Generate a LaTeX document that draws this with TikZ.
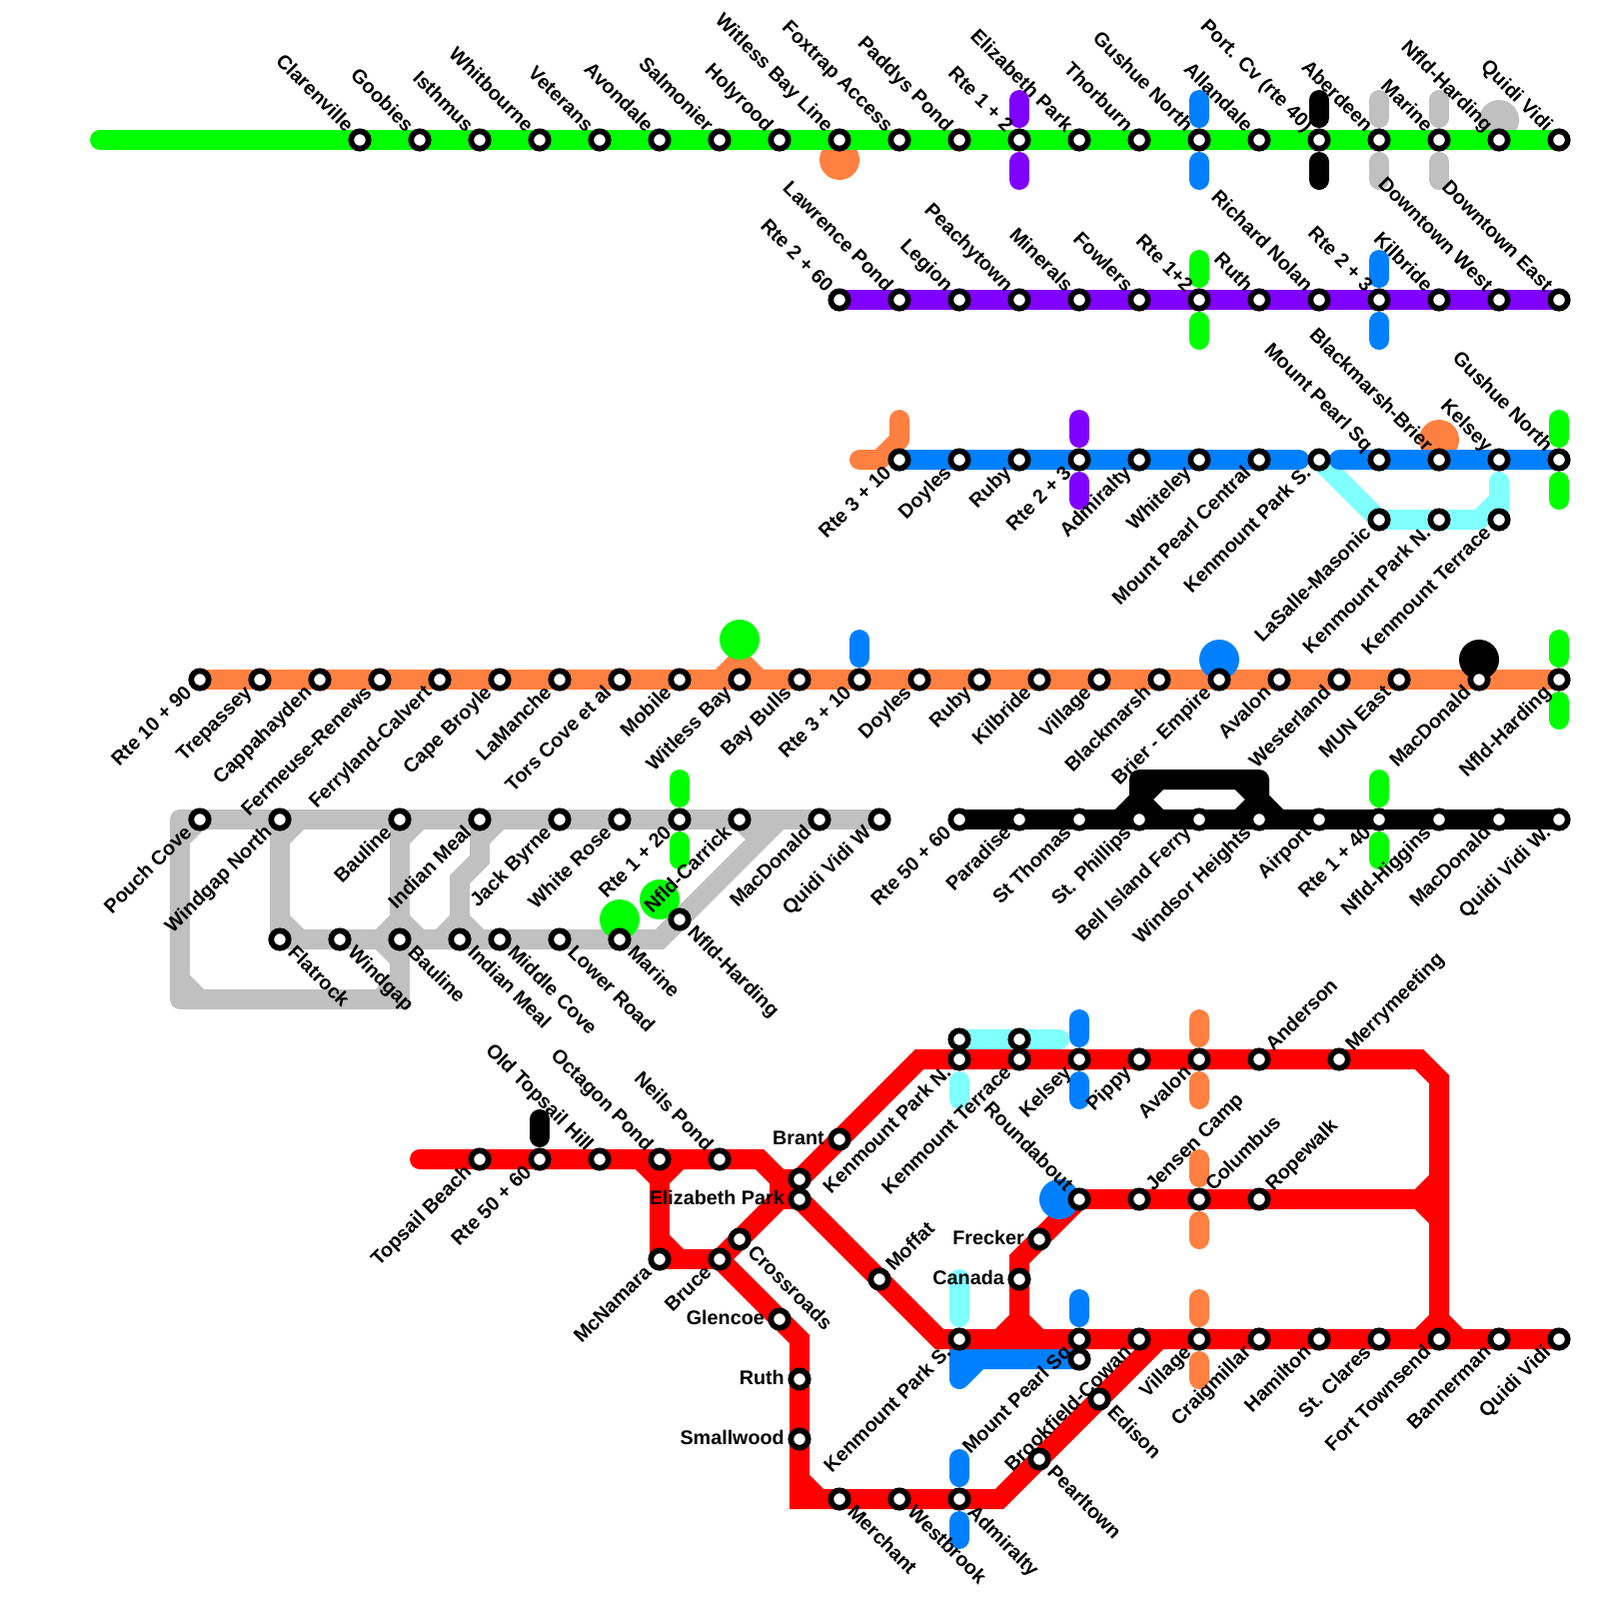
\documentclass[tikz,border=0pt]{standalone}
\usepackage{fontspec}
\setmainfont{Liberation Sans}
\usetikzlibrary{backgrounds}
\definecolor{lnGreen}{HTML}{00FF00}
\definecolor{lnPurple}{HTML}{8000FF}
\definecolor{lnBlue}{HTML}{0080FF}
\definecolor{lnOrange}{HTML}{FF8040}
\definecolor{lnCyan}{HTML}{80FFFF}
\definecolor{lnGray}{HTML}{C0C0C0}
\definecolor{lnRed}{HTML}{FF0000}

\begin{document}
\begin{tikzpicture}[
        x=0.1mm, y=-0.1mm,
        stn/.style={circle, draw=black, fill=white, line width=0.57mm,
                    minimum size=1.74mm, inner sep=0pt, outer sep=0pt},
        txt/.style={font=\fontsize{5.62pt}{6pt}\selectfont\bfseries, inner sep=0pt},
        ul/.style={txt, rotate=-45, anchor=base east, xshift=-1.45mm, yshift=-0.5mm},
        dl/.style={txt, rotate=45, anchor=base east, xshift=-1.45mm, yshift=-0.5mm},
        ur/.style={txt, rotate=45, anchor=base west, xshift=1.45mm, yshift=-0.5mm},
        dr/.style={txt, rotate=-45, anchor=base west, xshift=1.45mm, yshift=-0.5mm},
        lf/.style={txt, anchor=base east, xshift=-1.45mm, yshift=-0.5mm},
        track/.style={line width=2mm, line join=round, line cap=round},
        flat/.style={line width=2mm, line join=miter, line cap=butt},
        blob/.style={circle, fill=#1, minimum size=4mm, inner sep=0pt, outer sep=0pt}
    ]
    \useasboundingbox (0,0) rectangle (1600,1600);

    % ---- Green line ----
    \node[stn] (gn1) at (360,140) {}; \node[ul] (gn1t) at (gn1.center) {Clarenville};
    \node[stn] (gn2) at (420,140) {}; \node[ul] (gn2t) at (gn2.center) {Goobies};
    \node[stn] (gn3) at (480,140) {}; \node[ul] (gn3t) at (gn3.center) {Isthmus};
    \node[stn] (gn4) at (540,140) {}; \node[ul] (gn4t) at (gn4.center) {Whitbourne};
    \node[stn] (gn5) at (600,140) {}; \node[ul] (gn5t) at (gn5.center) {Veterans};
    \node[stn] (gn6) at (660,140) {}; \node[ul] (gn6t) at (gn6.center) {Avondale};
    \node[stn] (gn7) at (720,140) {}; \node[ul] (gn7t) at (gn7.center) {Salmonier};
    \node[stn] (gn8) at (780,140) {}; \node[ul] (gn8t) at (gn8.center) {Holyrood};
    \node[stn] (gn9) at (840,140) {}; \node[ul] (gn9t) at (gn9.center) {Witless Bay Line};
    \node[stn] (gn10) at (900,140) {}; \node[ul] (gn10t) at (gn10.center) {Foxtrap Access};
    \node[stn] (gn11) at (960,140) {}; \node[ul] (gn11t) at (gn11.center) {Paddys Pond};
    \node[stn] (gn12) at (1020,140) {}; \node[ul] (gn12t) at (gn12.center) {Rte 1 + 2};
    \node[stn] (gn13) at (1080,140) {}; \node[ul] (gn13t) at (gn13.center) {Elizabeth Park};
    \node[stn] (gn14) at (1140,140) {}; \node[ul] (gn14t) at (gn14.center) {Thorburn};
    \node[stn] (gn15) at (1200,140) {}; \node[ul] (gn15t) at (gn15.center) {Gushue North};
    \node[stn] (gn16) at (1260,140) {}; \node[ul] (gn16t) at (gn16.center) {Allandale};
    \node[stn] (gn17) at (1320,140) {}; \node[ul] (gn17t) at (gn17.center) {Port. Cv (rte 40)};
    \node[stn] (gn18) at (1380,140) {}; \node[ul] (gn18t) at (gn18.center) {Aberdeen};
    \node[stn] (gn19) at (1440,140) {}; \node[ul] (gn19t) at (gn19.center) {Marine};
    \node[stn] (gn20) at (1500,140) {}; \node[ul] (gn20t) at (gn20.center) {Nfld-Harding};
    \node[stn] (gn21) at (1560,140) {}; \node[ul] (gn21t) at (gn21.center) {Quidi Vidi};

    % ---- Purple line ----
    \node[stn] (pu1) at (840,300) {}; \node[ul] (pu1t) at (pu1.center) {Rte 2 + 60};
    \node[stn] (pu2) at (900,300) {}; \node[ul] (pu2t) at (pu2.center) {Lawrence Pond};
    \node[stn] (pu3) at (960,300) {}; \node[ul] (pu3t) at (pu3.center) {Legion};
    \node[stn] (pu4) at (1020,300) {}; \node[ul] (pu4t) at (pu4.center) {Peachytown};
    \node[stn] (pu5) at (1080,300) {}; \node[ul] (pu5t) at (pu5.center) {Minerals};
    \node[stn] (pu6) at (1140,300) {}; \node[ul] (pu6t) at (pu6.center) {Fowlers};
    \node[stn] (pu7) at (1200,300) {}; \node[ul] (pu7t) at (pu7.center) {Rte 1+2};
    \node[stn] (pu8) at (1260,300) {}; \node[ul] (pu8t) at (pu8.center) {Ruth};
    \node[stn] (pu9) at (1320,300) {}; \node[ul] (pu9t) at (pu9.center) {Richard Nolan};
    \node[stn] (pu10) at (1380,300) {}; \node[ul] (pu10t) at (pu10.center) {Rte 2 + 3};
    \node[stn] (pu11) at (1440,300) {}; \node[ul] (pu11t) at (pu11.center) {Kilbride};
    \node[stn] (pu12) at (1500,300) {}; \node[ul] (pu12t) at (pu12.center) {Downtown West};
    \node[stn] (pu13) at (1560,300) {}; \node[ul] (pu13t) at (pu13.center) {Downtown East};

    % ---- Blue line ----
    \node[stn] (bl1) at (900,460) {}; \node[dl] (bl1t) at (bl1.center) {Rte 3 + 10};
    \node[stn] (bl2) at (960,460) {}; \node[dl] (bl2t) at (bl2.center) {Doyles};
    \node[stn] (bl3) at (1020,460) {}; \node[dl] (bl3t) at (bl3.center) {Ruby};
    \node[stn] (bl4) at (1080,460) {}; \node[dl] (bl4t) at (bl4.center) {Rte 2 + 3};
    \node[stn] (bl5) at (1140,460) {}; \node[dl] (bl5t) at (bl5.center) {Admiralty};
    \node[stn] (bl6) at (1200,460) {}; \node[dl] (bl6t) at (bl6.center) {Whiteley};
    \node[stn] (bl7) at (1260,460) {}; \node[dl] (bl7t) at (bl7.center) {Mount Pearl Central};
    \node[stn] (bl8) at (1320,460) {}; \node[dl] (bl8t) at (bl8.center) {Kenmount Park S.};
    \node[stn] (bl9) at (1380,460) {}; \node[ul] (bl9t) at (bl9.center) {Mount Pearl Sq};
    \node[stn] (bl10) at (1440,460) {}; \node[ul] (bl10t) at (bl10.center) {Blackmarsh-Brier};
    \node[stn] (bl11) at (1500,460) {}; \node[ul] (bl11t) at (bl11.center) {Kelsey};
    \node[stn] (bl12) at (1560,460) {}; \node[ul] (bl12t) at (bl12.center) {Gushue North};
    \node[stn] (cy1) at (1380,520) {}; \node[dl] (cy1t) at (cy1.center) {LaSalle-Masonic};
    \node[stn] (cy2) at (1440,520) {}; \node[dl] (cy2t) at (cy2.center) {Kenmount Park N.};
    \node[stn] (cy3) at (1500,520) {}; \node[dl] (cy3t) at (cy3.center) {Kenmount Terrace};

    % ---- Orange line ----
    \node[stn] (or1) at (200,680) {}; \node[dl] (or1t) at (or1.center) {Rte 10 + 90};
    \node[stn] (or2) at (260,680) {}; \node[dl] (or2t) at (or2.center) {Trepassey};
    \node[stn] (or3) at (320,680) {}; \node[dl] (or3t) at (or3.center) {Cappahayden};
    \node[stn] (or4) at (380,680) {}; \node[dl] (or4t) at (or4.center) {Fermeuse-Renews};
    \node[stn] (or5) at (440,680) {}; \node[dl] (or5t) at (or5.center) {Ferryland-Calvert};
    \node[stn] (or6) at (500,680) {}; \node[dl] (or6t) at (or6.center) {Cape Broyle};
    \node[stn] (or7) at (560,680) {}; \node[dl] (or7t) at (or7.center) {LaManche};
    \node[stn] (or8) at (620,680) {}; \node[dl] (or8t) at (or8.center) {Tors Cove et al};
    \node[stn] (or9) at (680,680) {}; \node[dl] (or9t) at (or9.center) {Mobile};
    \node[stn] (or10) at (740,680) {}; \node[dl] (or10t) at (or10.center) {Witless Bay};
    \node[stn] (or11) at (800,680) {}; \node[dl] (or11t) at (or11.center) {Bay Bulls};
    \node[stn] (or12) at (860,680) {}; \node[dl] (or12t) at (or12.center) {Rte 3 + 10};
    \node[stn] (or13) at (920,680) {}; \node[dl] (or13t) at (or13.center) {Doyles};
    \node[stn] (or14) at (980,680) {}; \node[dl] (or14t) at (or14.center) {Ruby};
    \node[stn] (or15) at (1040,680) {}; \node[dl] (or15t) at (or15.center) {Kilbride};
    \node[stn] (or16) at (1100,680) {}; \node[dl] (or16t) at (or16.center) {Village};
    \node[stn] (or17) at (1160,680) {}; \node[dl] (or17t) at (or17.center) {Blackmarsh};
    \node[stn] (or18) at (1220,680) {}; \node[dl] (or18t) at (or18.center) {Brier - Empire};
    \node[stn] (or19) at (1280,680) {}; \node[dl] (or19t) at (or19.center) {Avalon};
    \node[stn] (or20) at (1340,680) {}; \node[dl] (or20t) at (or20.center) {Westerland};
    \node[stn] (or21) at (1400,680) {}; \node[dl] (or21t) at (or21.center) {MUN East};
    \node[stn] (or22) at (1480,680) {}; \node[dl] (or22t) at (or22.center) {MacDonald};
    \node[stn] (or23) at (1560,680) {}; \node[dl] (or23t) at (or23.center) {Nfld-Harding};

    % ---- Gray line ----
    \node[stn] (gy1) at (200,820) {}; \node[dl] (gy1t) at (gy1.center) {Pouch Cove};
    \node[stn] (gy2) at (280,820) {}; \node[dl] (gy2t) at (gy2.center) {Windgap North};
    \node[stn] (gy3) at (400,820) {}; \node[dl] (gy3t) at (gy3.center) {Bauline};
    \node[stn] (gy4) at (480,820) {}; \node[dl] (gy4t) at (gy4.center) {Indian Meal};
    \node[stn] (gy5) at (560,820) {}; \node[dl] (gy5t) at (gy5.center) {Jack Byrne};
    \node[stn] (gy6) at (620,820) {}; \node[dl] (gy6t) at (gy6.center) {White Rose};
    \node[stn] (gy7) at (680,820) {}; \node[dl] (gy7t) at (gy7.center) {Rte 1 + 20};
    \node[stn] (gy8) at (740,820) {}; \node[dl] (gy8t) at (gy8.center) {Nfld-Carrick};
    \node[stn] (gy9) at (820,820) {}; \node[dl] (gy9t) at (gy9.center) {MacDonald};
    \node[stn] (gy10) at (880,820) {}; \node[dl] (gy10t) at (gy10.center) {Quidi Vidi W};
    \node[stn] (gy11) at (280,940) {}; \node[dr] (gy11t) at (gy11.center) {Flatrock};
    \node[stn] (gy12) at (340,940) {}; \node[dr] (gy12t) at (gy12.center) {Windgap};
    \node[stn] (gy13) at (400,940) {}; \node[dr] (gy13t) at (gy13.center) {Bauline};
    \node[stn] (gy14) at (460,940) {}; \node[dr] (gy14t) at (gy14.center) {Indian Meal};
    \node[stn] (gy15) at (500,940) {}; \node[dr] (gy15t) at (gy15.center) {Middle Cove};
    \node[stn] (gy16) at (560,940) {}; \node[dr] (gy16t) at (gy16.center) {Lower Road};
    \node[stn] (gy17) at (620,940) {}; \node[dr] (gy17t) at (gy17.center) {Marine};
    \node[stn] (gy18) at (680,920) {}; \node[dr] (gy18t) at (gy18.center) {Nfld-Harding};

    % ---- Black line ----
    \node[stn] (bk1) at (960,820) {}; \node[dl] (bk1t) at (bk1.center) {Rte 50 + 60};
    \node[stn] (bk2) at (1020,820) {}; \node[dl] (bk2t) at (bk2.center) {Paradise};
    \node[stn] (bk3) at (1080,820) {}; \node[dl] (bk3t) at (bk3.center) {St Thomas};
    \node[stn] (bk4) at (1140,820) {}; \node[dl] (bk4t) at (bk4.center) {St. Phillips};
    \node[stn] (bk5) at (1200,820) {}; \node[dl] (bk5t) at (bk5.center) {Bell Island Ferry};
    \node[stn] (bk6) at (1260,820) {}; \node[dl] (bk6t) at (bk6.center) {Windsor Heights};
    \node[stn] (bk7) at (1320,820) {}; \node[dl] (bk7t) at (bk7.center) {Airport};
    \node[stn] (bk8) at (1380,820) {}; \node[dl] (bk8t) at (bk8.center) {Rte 1 + 40};
    \node[stn] (bk9) at (1440,820) {}; \node[dl] (bk9t) at (bk9.center) {Nfld-Higgins};
    \node[stn] (bk10) at (1500,820) {}; \node[dl] (bk10t) at (bk10.center) {MacDonald};
    \node[stn] (bk11) at (1560,820) {}; \node[dl] (bk11t) at (bk11.center) {Quidi Vidi W.};

    % ---- Red line ----
    \node[stn] (rd1) at (480,1160) {}; \node[dl] (rd1t) at (rd1.center) {Topsail Beach};
    \node[stn] (rd2) at (540,1160) {}; \node[dl] (rd2t) at (rd2.center) {Rte 50 + 60};
    \node[stn] (rd3) at (600,1160) {}; \node[ul] (rd3t) at (rd3.center) {Old Topsail Hill};
    \node[stn] (rd4) at (660,1160) {}; \node[ul] (rd4t) at (rd4.center) {Octagon Pond};
    \node[stn] (rd5) at (720,1160) {}; \node[ul] (rd5t) at (rd5.center) {Neils Pond};
    \node[stn] (rd6) at (660,1260) {}; \node[dl] (rd6t) at (rd6.center) {McNamara};
    \node[stn] (rd7) at (720,1260) {}; \node[dl] (rd7t) at (rd7.center) {Bruce};
    \node[stn] (rd8) at (740,1240) {}; \node[dr] (rd8t) at (rd8.center) {Crossroads};
    \node[stn] (rd9) at (800,1180) {};
    \node[stn] (rd10) at (800,1200) {}; \node[lf] (rd10t) at (rd10.center) {Elizabeth Park};
    \node[stn] (rd11) at (840,1140) {}; \node[lf] (rd11t) at (rd11.center) {Brant};
    \node[stn] (rd12) at (880,1280) {}; \node[ur] (rd12t) at (rd12.center) {Moffat};
    \node[stn] (rd13) at (780,1320) {}; \node[lf] (rd13t) at (rd13.center) {Glencoe};
    \node[stn] (rd14) at (800,1380) {}; \node[lf] (rd14t) at (rd14.center) {Ruth};
    \node[stn] (rd15) at (800,1440) {}; \node[lf] (rd15t) at (rd15.center) {Smallwood};
    \node[stn] (rd16) at (840,1500) {}; \node[dr] (rd16t) at (rd16.center) {Merchant};
    \node[stn] (rd17) at (900,1500) {}; \node[dr] (rd17t) at (rd17.center) {Westbrook};
    \node[stn] (rd18) at (960,1500) {}; \node[dr] (rd18t) at (rd18.center) {Admiralty};
    \node[stn] (rd19) at (1040,1460) {}; \node[dr] (rd19t) at (rd19.center) {Pearltown};
    \node[stn] (rd20) at (1100,1400) {}; \node[dr] (rd20t) at (rd20.center) {Edison};
    \node[stn] (rd21) at (960,1040) {};
    \node[stn] (rd22) at (1020,1040) {};
    \node[stn] (rd23) at (960,1060) {}; \node[dl] (rd23t) at (rd23.center) {Kenmount Park N.};
    \node[stn] (rd24) at (1020,1060) {}; \node[dl] (rd24t) at (rd24.center) {Kenmount Terrace};
    \node[stn] (rd25) at (1080,1060) {}; \node[dl] (rd25t) at (rd25.center) {Kelsey};
    \node[stn] (rd26) at (1140,1060) {}; \node[dl] (rd26t) at (rd26.center) {Pippy};
    \node[stn] (rd27) at (1200,1060) {}; \node[dl] (rd27t) at (rd27.center) {Avalon};
    \node[stn] (rd28) at (1260,1060) {}; \node[ur] (rd28t) at (rd28.center) {Anderson};
    \node[stn] (rd29) at (1340,1060) {}; \node[ur] (rd29t) at (rd29.center) {Merrymeeting};
    \node[stn] (rd30) at (1080,1200) {}; \node[ul] (rd30t) at (rd30.center) {Roundabout};
    \node[stn] (rd31) at (1140,1200) {}; \node[ur] (rd31t) at (rd31.center) {Jensen Camp};
    \node[stn] (rd32) at (1200,1200) {}; \node[ur] (rd32t) at (rd32.center) {Columbus};
    \node[stn] (rd33) at (1260,1200) {}; \node[ur] (rd33t) at (rd33.center) {Ropewalk};
    \node[stn] (rd34) at (1040,1240) {}; \node[lf] (rd34t) at (rd34.center) {Frecker};
    \node[stn] (rd35) at (1020,1280) {}; \node[lf] (rd35t) at (rd35.center) {Canada};
    \node[stn] (rd36) at (960,1340) {}; \node[dl] (rd36t) at (rd36.center) {Kenmount Park S.};
    \node[stn] (rd37) at (1080,1340) {}; \node[dl] (rd37t) at (rd37.center) {Mount Pearl Sq};
    \node[stn] (rd38) at (1080,1360) {};
    \node[stn] (rd39) at (1140,1340) {}; \node[dl] (rd39t) at (rd39.center) {Brookfield-Cowan};
    \node[stn] (rd40) at (1200,1340) {}; \node[dl] (rd40t) at (rd40.center) {Village};
    \node[stn] (rd41) at (1260,1340) {}; \node[dl] (rd41t) at (rd41.center) {Craigmillar};
    \node[stn] (rd42) at (1320,1340) {}; \node[dl] (rd42t) at (rd42.center) {Hamilton};
    \node[stn] (rd43) at (1380,1340) {}; \node[dl] (rd43t) at (rd43.center) {St. Clares};
    \node[stn] (rd44) at (1440,1340) {}; \node[dl] (rd44t) at (rd44.center) {Fort Townsend};
    \node[stn] (rd45) at (1500,1340) {}; \node[dl] (rd45t) at (rd45.center) {Bannerman};
    \node[stn] (rd46) at (1560,1340) {}; \node[dl] (rd46t) at (rd46.center) {Quidi Vidi};

    \begin{scope}[on background layer]
    % ---- Green ----
    \node[blob=lnOrange] (blobA) at (840,160) {};
    \node[blob=lnGray] (blobB) at (1500,120) {};
    \draw[track, lnGreen] (100,140) -- (gn1.center) -- (gn21.center);
    \draw[track, lnPurple] (1020,100) -- (1020,118) (1020,162) -- (1020,180);
    \draw[track, lnBlue] (1200,100) -- (1200,118) (1200,162) -- (1200,180);
    \draw[track, black] (1320,100) -- (1320,118) (1320,162) -- (1320,180);
    \draw[track, lnGray] (1380,100) -- (1380,118) (1380,162) -- (1380,180);
    \draw[track, lnGray] (1440,100) -- (1440,118) (1440,162) -- (1440,180);

    % ---- Purple ----
    \draw[flat, lnPurple] (pu1.center) -- (pu13.center);
    \draw[track, lnGreen] (1200,260) -- (1200,278) (1200,322) -- (1200,340);
    \draw[track, lnBlue] (1380,260) -- (1380,278) (1380,322) -- (1380,340);

    % ---- Blue ----
    \node[blob=lnOrange] (blobC) at (1440,440) {};
    \draw[track, lnOrange] (860,460) -- (880,460) -- (900,440) -- (900,420);
    \draw[track, lnCyan] (bl8.center) -- (cy1.center) -- (1480,520) -- (1500,500) -- (1500,482);
    \draw[flat, lnCyan] (cy3.center) -- (1500,500);
    \draw[track, lnBlue] (bl1.center) -- (1300,460);
    \draw[track, lnBlue] (1340,460) -- (bl12.center);
    \draw[track, lnPurple] (1080,420) -- (1080,438) (1080,482) -- (1080,500);
    \draw[track, lnGreen] (1560,420) -- (1560,438) (1560,482) -- (1560,500);

    % ---- Orange ----
    \draw[flat, lnOrange] (or1.center) -- (or23.center);
    \draw[flat, lnOrange] (720,680) -- (740,660) -- (760,680);
    \draw[track, lnBlue] (860,640) -- (860,658);
    \draw[track, lnGreen] (1560,640) -- (1560,658) (1560,702) -- (1560,720);
    \node[blob=lnGreen] (blobD) at (740,640) {};
    \node[blob=lnBlue] (blobE) at (1220,660) {};
    \node[blob=black] (blobF) at (1480,660) {};

    % ---- Gray ----
    \draw[flat, lnGray, line join=round, line cap=round] (gy1.center) -- (180,820) -- (180,1000) -- (400,1000) -- (gy13.center);
    \draw[flat, lnGray] (gy1.center) -- (180,840) (180,980) -- (200,1000) (380,1000) -- (400,980) (380,940) -- (400,960);
    \draw[flat, lnGray] (gy1.center) -- (gy10.center);
    \draw[flat, lnGray] (gy2.center) -- (gy11.center);
    \draw[flat, lnGray] (300,820) -- (280,840) (280,920) -- (300,940);
    \draw[flat, lnGray] (gy3.center) -- (gy13.center);
    \draw[flat, lnGray] (420,820) -- (400,840) (380,940) -- (400,920) -- (420,940);
    \draw[flat, lnGray] (gy4.center) -- (480,860) -- (460,880) -- (gy14.center);
    \draw[flat, lnGray] (500,820) -- (480,840) (440,940) -- (460,920) -- (480,940);
    \draw[flat, lnGray] (gy11.center) -- (660,940) -- (780,820);
    \draw[flat, lnGray] (gy8.center) -- (760,840);
    \node[blob=lnGreen] (blobG) at (620,920) {};
    \node[blob=lnGreen] (blobH) at (660,900) {};
    \draw[track, lnGreen] (680,780) -- (680,798) (680,842) -- (680,860);

    % ---- Black ----
    \draw[flat, black] (bk1.center) -- (bk11.center);
    \draw[flat, black, line join=round] (1120,820) -- (1140,800) -- (1140,780) -- (1260,780) -- (1260,800) -- (1280,820);
    \draw[flat, black] (1160,820) -- (1140,800) -- (1160,780);
    \draw[flat, black] (1240,820) -- (1260,800) -- (1240,780);
    \draw[track, lnGreen] (1380,780) -- (1380,798) (1380,842) -- (1380,860);

    % ---- Blue and cyan under the red ----
    \draw[track, lnBlue] (rd38.center) -- (980,1360) -- (960,1380) -- (960,1362);
    \draw[flat, lnBlue] (rd38.center) -- (960,1360) -- (960,1380);
    \draw[track, lnCyan] (rd21.center) -- (1060,1040);
    \draw[track, lnCyan] (960,1082) -- (960,1100);
    \draw[track, lnCyan] (960,1280) -- (960,1318);
    \draw[track, lnBlue] (1080,1020) -- (1080,1038) (1080,1082) -- (1080,1100);
    \draw[track, lnBlue] (1080,1300) -- (1080,1318);
    \draw[track, lnBlue] (960,1460) -- (960,1478) (960,1522) -- (960,1540);
    \draw[track, lnOrange] (1200,1020) -- (1200,1038) (1200,1082) -- (1200,1100);
    \draw[track, lnOrange] (1200,1160) -- (1200,1178) (1200,1222) -- (1200,1240);
    \draw[track, lnOrange] (1200,1300) -- (1200,1318) (1200,1362) -- (1200,1380);
    \draw[track, black] (540,1120) -- (540,1138);

    % ---- Red ----
    \draw[flat, lnRed, line cap=round] (420,1160) -- (760,1160) -- (780,1180) -- (rd9.center);
    \draw[flat, lnRed, line join=round] (780,1180) -- (780,1200) -- (rd10.center);
    \draw[flat, lnRed] (780,1200) -- (rd7.center);
    \draw[flat, lnRed] (rd9.center) -- (920,1060) -- (1420,1060) -- (1440,1080) -- (1440,1340);
    \draw[flat, lnRed] (rd10.center) -- (940,1340) -- (rd46.center);
    \draw[flat, lnRed] (640,1160) -- (660,1180) -- (680,1160);
    \draw[flat, lnRed, line join=round] (660,1180) -- (rd6.center) -- (rd7.center);
    \draw[flat, lnRed] (660,1240) -- (680,1260);
    \draw[flat, lnRed] (rd7.center) -- (800,1340) -- (800,1500) -- (1000,1500) -- (1160,1340);
    \draw[flat, lnRed] (800,1480) -- (820,1500);
    \draw[flat, lnRed] (rd30.center) -- (1020,1260) -- (1020,1320);
    \draw[flat, lnRed] (1000,1340) -- (1020,1320) -- (1040,1340);
    \draw[flat, lnRed] (rd30.center) -- (1420,1200);
    \draw[flat, lnRed] (1440,1180) -- (1420,1200) -- (1440,1220);
    \draw[flat, lnRed] (1420,1340) -- (1440,1320) -- (1460,1340);
    \node[blob=lnBlue] (blobI) at (1060,1200) {};
    \end{scope}
\end{tikzpicture}
\end{document}
